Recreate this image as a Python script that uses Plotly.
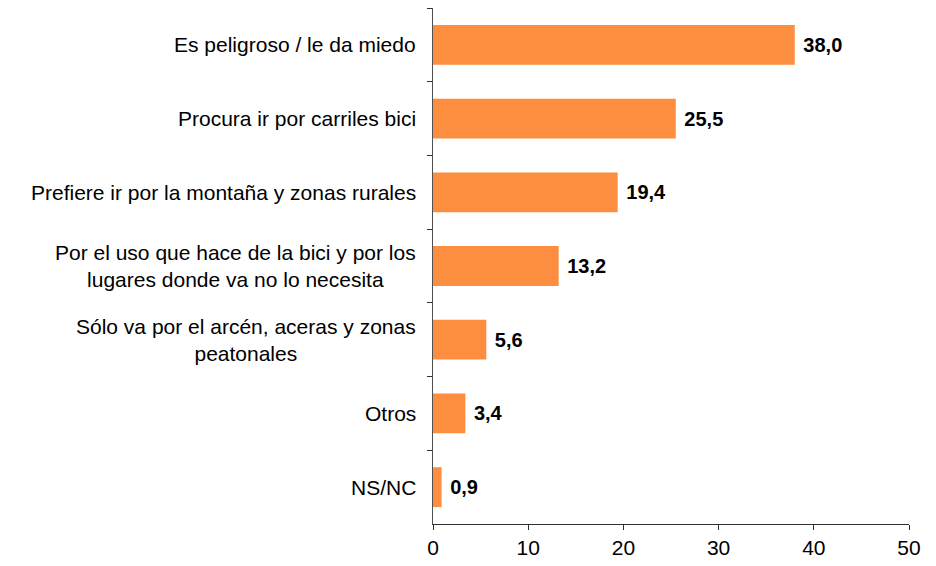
import plotly.graph_objects as go

# categories top -> bottom
categories = [
    "Es peligroso / le da miedo",
    "Procura ir por carriles bici",
    "Prefiere ir por la montaña y zonas rurales",
    "Por el uso que hace de la bici y por los<br>lugares donde va no lo necesita",
    "Sólo va por el arcén, aceras y zonas<br>peatonales",
    "Otros",
    "NS/NC",
]
values = [38.0, 25.5, 19.4, 13.2, 5.6, 3.4, 0.9]
x_ticks = [0, 10, 20, 30, 40, 50]

FONT = "Liberation Sans, Arial, sans-serif"

fig = go.Figure()
fig.add_trace(go.Bar(
    x=values,
    y=categories,
    orientation="h",
    marker=dict(color="#FD8D3F", line=dict(width=0)),
    width=0.54,
    texttemplate=" %{x:.1f}",
    textposition="outside",
    textfont=dict(family=FONT, size=20, color="black", weight="bold"),
    cliponaxis=False,
    hoverinfo="skip",
))

# category labels as centred annotations left of the axis
for cat in categories:
    fig.add_annotation(
        x=0, xref="paper", y=cat, yref="y",
        text=cat, showarrow=False,
        xanchor="right", yanchor="middle", align="center",
        xshift=-15,
        font=dict(family=FONT, size=21, color="black"),
    )

# page body has an 8px margin, so the figure is sized 8px smaller
fig.update_layout(
    width=928, height=558,
    margin=dict(l=425, r=27, t=0, b=42),
    paper_bgcolor="white", plot_bgcolor="white",
    separators=",.",
    showlegend=False,
    xaxis=dict(
        range=[0, 50], tickvals=x_ticks, showgrid=False, zeroline=False,
        showline=True, linecolor="#303030", linewidth=1,
        ticks="outside", ticklen=5, tickcolor="#303030",
        tickfont=dict(family=FONT, size=21, color="black"),
    ),
    yaxis=dict(
        autorange="reversed", showticklabels=False, showgrid=False,
        showline=True, linecolor="#505050", linewidth=1,
        ticks="outside", ticklen=5, tickcolor="#303030",
        tickson="boundaries",
    ),
)

fig.write_html("out.html")
